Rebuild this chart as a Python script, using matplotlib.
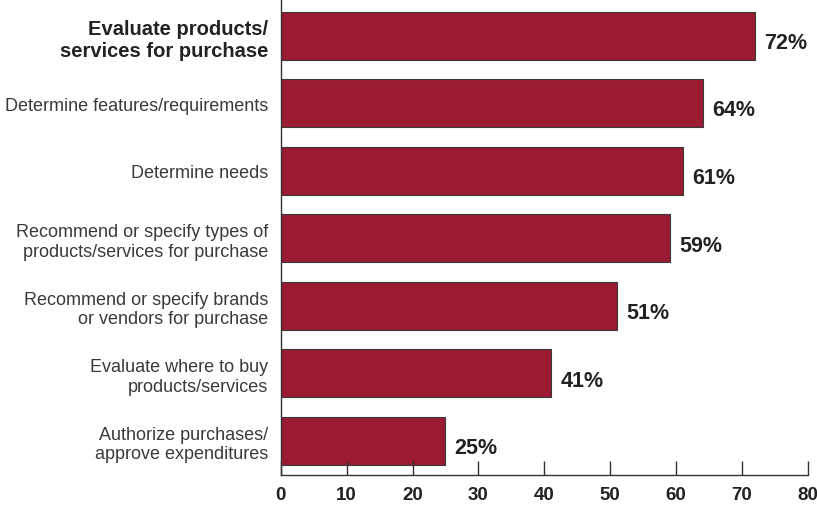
import matplotlib.pyplot as plt

plt.rcParams['font.family'] = ['Liberation Sans', 'DejaVu Sans']

# Activities, listed bottom to top as they are drawn
activities = [
    'Authorize purchases/\napprove expenditures',
    'Evaluate where to buy\nproducts/services',
    'Recommend or specify brands\nor vendors for purchase',
    'Recommend or specify types of\nproducts/services for purchase',
    'Determine needs',
    'Determine features/requirements',
    'Evaluate products/\nservices for purchase',
]
shares = [25, 41, 51, 59, 61, 64, 72]
x_ticks = [0, 10, 20, 30, 40, 50, 60, 70, 80]

BAR_RED = '#9a1b33'
TEXT = '#3a3a3a'


def main():
    fig = plt.figure(figsize=(8.17, 5.06), dpi=100)
    ax = fig.add_axes([0.3436, 0.0593, 0.6454, 0.9407])

    pos = list(range(len(activities)))
    ax.barh(pos, shares, height=0.71, color=BAR_RED, edgecolor='#3a3a3a', linewidth=0.8)

    for y, v in zip(pos, shares):
        ax.text(v + 1.4, y - 0.1, '{}%'.format(v), va='center', ha='left',
                fontsize=15.5, fontweight='bold', color='#222222')

    ax.set_xlim(0, 80)
    ax.set_ylim(-0.506, 6.544)
    ax.set_xticks(x_ticks)
    ax.set_yticks(pos)
    ax.set_yticklabels(activities, fontsize=13, color=TEXT, linespacing=1.2)
    top = ax.get_yticklabels()[-1]
    top.set_fontweight('bold')
    top.set_fontsize(14.5)
    top.set_color('#222222')
    for lbl in ax.get_xticklabels():
        lbl.set_fontweight('bold')
        lbl.set_fontsize(13.5)
        lbl.set_color('#222222')

    ax.tick_params(axis='x', direction='in', length=10, width=1, color='#333333', pad=8)
    ax.tick_params(axis='y', length=0, pad=9)

    for side in ['top', 'right']:
        ax.spines[side].set_visible(False)
    for side in ['left', 'bottom']:
        ax.spines[side].set_color('#333333')
        ax.spines[side].set_linewidth(1)

    fig.savefig('out.png', dpi=100)


if __name__ == "__main__":
    main()
